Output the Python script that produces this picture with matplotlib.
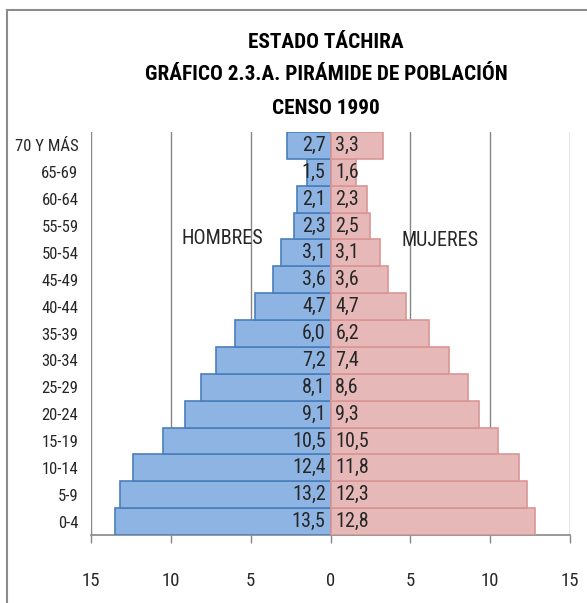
import matplotlib
matplotlib.use("Agg")
import matplotlib.pyplot as plt
from matplotlib.lines import Line2D

plt.rcParams['font.family'] = ['Roboto Condensed', 'Open Sans Condensed', 'Liberation Sans Narrow',
                               'Liberation Sans', 'DejaVu Sans']

categories = ["0-4", "5-9", "10-14", "15-19", "20-24", "25-29", "30-34", "35-39",
              "40-44", "45-49", "50-54", "55-59", "60-64", "65-69", "70 Y MÁS"]
hombres = [13.5, 13.2, 12.4, 10.5, 9.1, 8.1, 7.2, 6.0, 4.7, 3.6, 3.1, 2.3, 2.1, 1.5, 2.7]
mujeres = [12.8, 12.3, 11.8, 10.5, 9.3, 8.6, 7.4, 6.2, 4.7, 3.6, 3.1, 2.5, 2.3, 1.6, 3.3]
xticks = [-15, -10, -5, 0, 5, 10, 15]
xticklabels = ["15", "10", "5", "0", "5", "10", "15"]

fig = plt.figure(figsize=(5.87, 6.03), dpi=100)
ax = fig.add_axes([91/587, 1-535/603, (570-91)/587, (535-132)/603])

y = list(range(len(categories)))
ax.barh(y, [-v for v in hombres], height=1.0, color='#8EB4E3', edgecolor='#4A7EBB', linewidth=1.2, zorder=3)
ax.barh(y, mujeres, height=1.0, color='#E6B9B8', edgecolor='#D99694', linewidth=1.2, zorder=3)

for yi, h, m in zip(y, hombres, mujeres):
    ax.text(-0.3, yi, f"{h:.1f}".replace('.', ','), ha='right', va='center', fontsize=14.5, color='#262626', zorder=4)
    ax.text(0.3, yi, f"{m:.1f}".replace('.', ','), ha='left', va='center', fontsize=14.5, color='#262626', zorder=4)

ax.set_xlim(-15, 15)
ax.set_ylim(-0.5, len(categories) - 0.5)
ax.set_xticks(xticks)
ax.set_xticklabels(xticklabels, fontsize=13.5, color='#262626')
ax.set_yticks(y)
ax.set_yticklabels(categories, fontsize=12, color='#262626')
ax.tick_params(axis='y', length=0, pad=9)
ax.tick_params(axis='x', direction='out', length=5.8, width=1, color='#868686', pad=21)
ax.grid(axis='x', color='#868686', linewidth=1, zorder=0)
for s in ['top', 'right', 'left']:
    ax.spines[s].set_visible(False)
ax.spines['bottom'].set_color('#868686')
ax.spines['bottom'].set_linewidth(1.2)

ax.text(-6.8, 10.55, "HOMBRES", ha='center', va='center', fontsize=14.5, color='#262626', zorder=5)
ax.text(6.85, 10.45, "MUJERES", ha='center', va='center', fontsize=14.5, color='#262626', zorder=5)

tx = 326/587
fig.text(tx, 1-42/603, "ESTADO TÁCHIRA", ha='center', va='center', fontsize=15.3, fontweight='bold')
fig.text(tx, 1-75/603, "GRÁFICO 2.3.A. PIRÁMIDE DE POBLACIÓN", ha='center', va='center', fontsize=15.3, fontweight='bold')
fig.text(tx, 1-108/603, "CENSO 1990", ha='center', va='center', fontsize=15.3, fontweight='bold')

fig.add_artist(Line2D([7/587, 7/587], [0, 1-10/603], transform=fig.transFigure, color='#8C8C8C', linewidth=1.5))
fig.add_artist(Line2D([7/587, 1], [1-10/603, 1-10/603], transform=fig.transFigure, color='#8C8C8C', linewidth=1.5))

fig.savefig("out.png", dpi=100)
